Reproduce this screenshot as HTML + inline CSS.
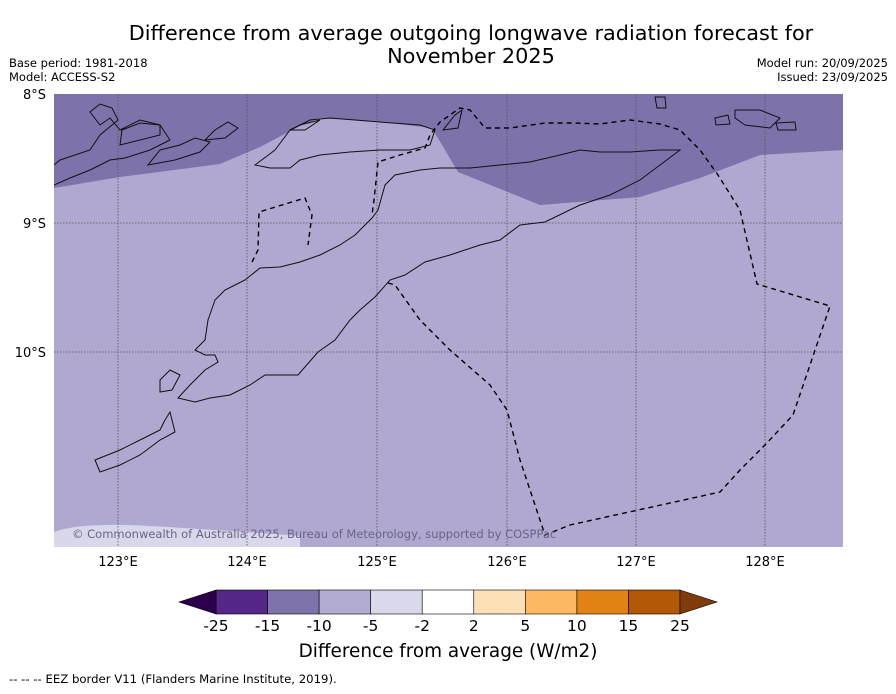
<!DOCTYPE html>
<html><head><meta charset="utf-8"><style>
body{margin:0;background:#fff;font-family:"DejaVu Sans","Liberation Sans",sans-serif;}
svg text{font-family:"DejaVu Sans","Liberation Sans",sans-serif;}
</style></head><body>
<svg width="896" height="690" viewBox="0 0 896 690">
<text x="471" y="40" font-size="20.8" text-anchor="middle">Difference from average outgoing longwave radiation forecast for</text>
<text x="471" y="63" font-size="20.8" text-anchor="middle">November 2025</text>
<text x="9" y="67" font-size="11.5">Base period: 1981-2018</text>
<text x="9" y="81" font-size="11.5">Model: ACCESS-S2</text>
<text x="888" y="67" font-size="11.5" text-anchor="end">Model run: 20/09/2025</text>
<text x="888" y="81" font-size="11.5" text-anchor="end">Issued: 23/09/2025</text>
<defs><clipPath id="mc"><rect x="54" y="94" width="789" height="453"/></clipPath></defs>
<g clip-path="url(#mc)">
<rect x="54" y="94" width="789" height="453" fill="#b0a8d0"/>
<path d="M54,94 H843 V150 L760,155 700,178 640,197 540,205 458,172 432,128 380,122 320,118 300,126 260,147 220,164 120,177 54,188 Z" fill="#7f72ab"/>
<path d="M54,532 Q80,522 150,526 T300,536 L300,547 H54 Z" fill="#d8d8ea"/>
<g stroke="#555" stroke-width="0.8" stroke-dasharray="1.5,1.5">
<line x1="118" y1="94" x2="118" y2="547"/><line x1="247" y1="94" x2="247" y2="547"/><line x1="377" y1="94" x2="377" y2="547"/><line x1="507" y1="94" x2="507" y2="547"/><line x1="636" y1="94" x2="636" y2="547"/><line x1="765" y1="94" x2="765" y2="547"/>
<line x1="54" y1="223" x2="843" y2="223"/><line x1="54" y1="352" x2="843" y2="352"/>
</g>
<g fill="none" stroke="#111" stroke-width="1">
<path d="M375,297 L390,280 405,275 425,262 450,255 480,245 500,240 520,225 545,222 580,205 610,195 640,180 660,165 680,150 660,150 630,152 600,152 580,150 560,155 530,162 500,165 470,168 440,168 420,170 395,175 385,185 378,210 372,218 355,235 340,245 320,255 300,262 280,267 260,268 245,280 235,285 225,290 215,300 208,320 205,340 195,350 205,355 215,355 218,362 205,370 190,385 178,398 195,402 210,398 230,395 250,385 265,375 280,375 298,375 318,352 335,340 350,320 360,310 375,297 Z"/>
<path d="M54,185 L70,178 90,170 110,160 125,158 150,150 170,140 160,125 140,120 120,130 110,118 100,125 90,112 100,104 112,108 118,120 100,135 90,150 60,160 54,165"/>
<path d="M120,145 L160,135 160,125 140,123 122,130 Z"/>
<path d="M148,165 L175,160 200,152 210,142 195,138 180,145 160,150 Z"/>
<path d="M205,140 L215,130 228,122 238,128 225,138 Z"/>
<path d="M255,165 L275,150 290,130 310,120 330,118 380,122 420,125 435,130 430,145 410,150 380,150 350,152 320,155 300,160 290,168 270,168 Z"/>
<path d="M290,130 L300,125 320,120 305,130 Z"/>
<path d="M443,130 L455,115 462,110 458,128 Z"/>
<path d="M655,97 L665,97 666,108 657,108 Z"/>
<path d="M735,110 L760,110 780,118 770,128 745,125 735,118 Z"/>
<path d="M776,123 L795,122 796,130 778,130 Z"/>
<path d="M715,118 L728,115 730,124 716,125 Z"/>
<path d="M160,380 L170,370 180,375 172,390 160,392 Z"/>
<path d="M95,460 L120,450 140,440 160,430 165,420 170,412 175,432 160,440 140,455 120,465 100,472 Z"/>
</g>
<g fill="none" stroke="#000" stroke-width="1.4" stroke-dasharray="5,4">
<path d="M252,262 L258,250 259,212 305,198 312,215 308,245"/>
<path d="M388,283 L395,285 420,320 450,350 490,385 507,410 520,460 545,535 570,525 720,492 740,470 765,445 793,415 830,306 757,284 740,210 718,175 700,150 680,130 660,124 630,120 600,124 575,123 545,123 510,128 485,128 470,110 460,108 440,122 430,135 425,148 400,155 378,162 374,200 372,215"/>
</g>
<text x="72" y="538" font-size="11.5" fill="#6a6488">© Commonwealth of Australia 2025, Bureau of Meteorology, supported by COSPPac</text>
</g>
<g font-size="13">
<text x="46" y="99" text-anchor="end">8°S</text>
<text x="46" y="228" text-anchor="end">9°S</text>
<text x="46" y="357" text-anchor="end">10°S</text>
<text x="118" y="566" text-anchor="middle">123°E</text>
<text x="247" y="566" text-anchor="middle">124°E</text>
<text x="377" y="566" text-anchor="middle">125°E</text>
<text x="507" y="566" text-anchor="middle">126°E</text>
<text x="636" y="566" text-anchor="middle">127°E</text>
<text x="765" y="566" text-anchor="middle">128°E</text>
</g>
<g id="cbar"></g>
<text x="448" y="657" font-size="18.4" text-anchor="middle">Difference from average (W/m2)</text>
<text x="9" y="683" font-size="11.7">--  --  -- EEZ border V11 (Flanders Marine Institute, 2019).</text>
</svg>
<script>
const tickLabels=["-25","-15","-10","-5","-2","2","5","10","15","25"];
const binColors=["#542788","#8073ac","#b2abd2","#d8daeb","#ffffff","#fee0b6","#fdb863","#e08214","#b35806"];
const underColor="#2d004b", overColor="#7f3b08";
const ns="http://www.w3.org/2000/svg";
const g=document.getElementById('cbar');
const x0=216,x1=680,y0=590,h=24,w=(x1-x0)/binColors.length;
function mk(t,a){const e=document.createElementNS(ns,t);for(const k in a)e.setAttribute(k,a[k]);g.appendChild(e);return e;}
binColors.forEach((c,i)=>{const r=mk('rect',{x:x0+i*w,y:y0,width:w,height:h,fill:c,stroke:'#000','stroke-width':0.6});

});
const lt=mk('polygon',{points:`${x0},${y0} 179,${y0+h/2} ${x0},${y0+h}`,fill:underColor,stroke:'#000','stroke-width':0.6});


const rt=mk('polygon',{points:`${x1},${y0} 717,${y0+h/2} ${x1},${y0+h}`,fill:overColor,stroke:'#000','stroke-width':0.6});


tickLabels.forEach((t,i)=>{const e=mk('text',{x:x0+i*w,y:631,'font-size':15.5,'text-anchor':'middle'});e.textContent=t;

});
</script>
</body></html>
